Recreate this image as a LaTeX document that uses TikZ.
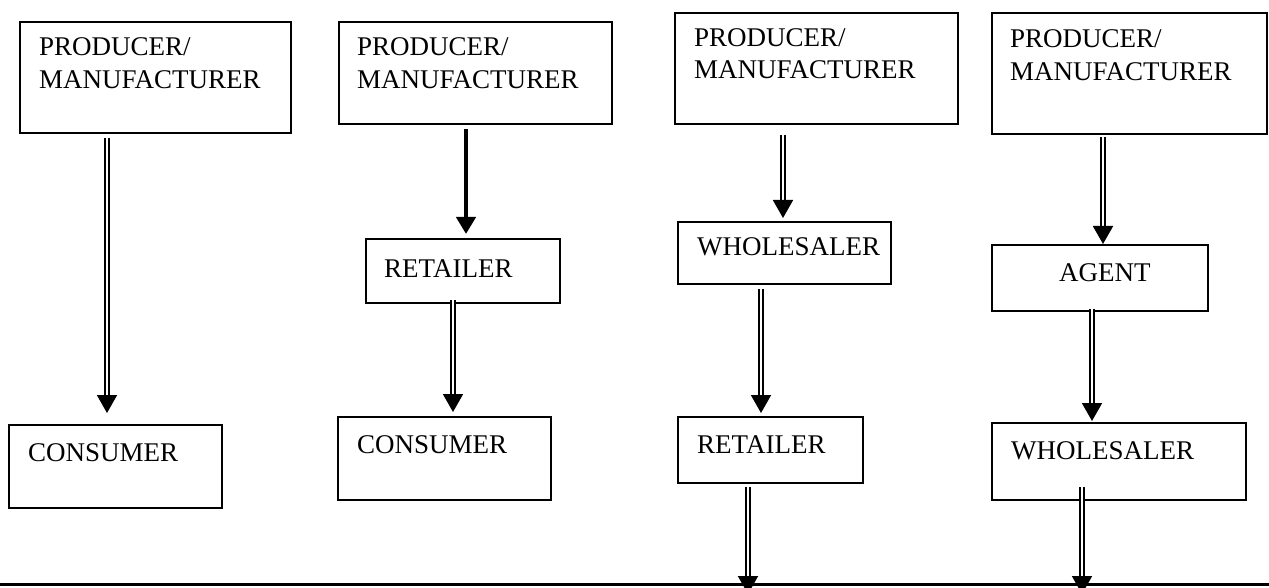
\documentclass[tikz,border=0pt]{standalone}
\usepackage{fontspec}
\setmainfont{Liberation Serif}
\usetikzlibrary{arrows.meta}
\begin{document}
\begin{tikzpicture}[x=1pt,y=-1pt,
  box/.style={draw, line width=2pt, inner sep=0pt, anchor=north west},
  txt/.style={inner sep=0pt, anchor=base west, font=\fontsize{27}{30}\selectfont},
  dbl/.style={draw, line width=1.8pt, double=white, double distance=1.8pt,
    -{Triangle[width=20pt,length=18pt]}},
  sgl/.style={draw, line width=4.5pt, -{Triangle[width=19pt,length=17pt]}}]
\useasboundingbox (0,0) rectangle (1269,588);
\fill[white] (0,0) rectangle (1269,588);
% column 1
\node[box, minimum width=271pt, minimum height=111pt] (p1) at (19,21) {};
\node[txt] (p1a) at (39,56) {PRODUCER/};
\node[txt] (p1b) at (39,89) {MANUFACTURER};
\node[box, minimum width=213pt, minimum height=83pt] (c1) at (8,424) {};
\node[txt] (c1t) at (28,461) {CONSUMER};
% column 2
\node[box, minimum width=273pt, minimum height=102pt] (p2) at (338,21) {};
\node[txt] (p2a) at (357,56) {PRODUCER/};
\node[txt] (p2b) at (357,89) {MANUFACTURER};
\node[box, minimum width=194pt, minimum height=64pt] (r2) at (365,238) {};
\node[txt] (r2t) at (384,277) {RETAILER};
\node[box, minimum width=213pt, minimum height=83pt] (c2) at (337,416) {};
\node[txt] (c2t) at (357,453) {CONSUMER};
% column 3
\node[box, minimum width=283pt, minimum height=111pt] (p3) at (674,12) {};
\node[txt] (p3a) at (694,47) {PRODUCER/};
\node[txt] (p3b) at (694,79) {MANUFACTURER};
\node[box, minimum width=213pt, minimum height=62pt] (w3) at (677,221) {};
\node[txt] (w3t) at (697,255) {WHOLESALER};
\node[box, minimum width=185pt, minimum height=66pt] (r3) at (677,416) {};
\node[txt] (r3t) at (697,453) {RETAILER};
% column 4
\node[box, minimum width=275pt, minimum height=121pt] (p4) at (991,12) {};
\node[txt] (p4a) at (1010,48) {PRODUCER/};
\node[txt] (p4b) at (1010,81) {MANUFACTURER};
\node[box, minimum width=216pt, minimum height=66pt] (a4) at (991,244) {};
\node[txt] (a4t) at (1059,281) {AGENT};
\node[box, minimum width=254pt, minimum height=77pt] (w4) at (991,422) {};
\node[txt] (w4t) at (1011,459) {WHOLESALER};
% bottom line
\coordinate (bl) at (0,584.5);
\coordinate (br) at (1269,584.5);
\draw[line width=2.6pt] (bl) -- (br);
\coordinate (e3) at (748,594);
\coordinate (e4) at (1082,594);
% connectors
\draw[dbl, shorten <=4pt, shorten >=11pt] (p1.south -| 107,0) -- (c1.north -| 107,0);
\draw[sgl, shorten <=4pt, shorten >=4pt] (p2.south -| 466,0) -- (r2.north -| 466,0);
\draw[dbl, shorten <=-4pt, shorten >=4pt] (r2.south -| 453,0) -- (c2.north -| 453,0);
\draw[dbl, shorten <=10pt, shorten >=3pt] (p3.south -| 783,0) -- (w3.north -| 783,0);
\draw[dbl, shorten <=4pt, shorten >=3pt] (w3.south -| 761,0) -- (r3.north -| 761,0);
\draw[dbl, shorten <=3pt] (r3.south -| 748,0) -- (e3);
\draw[dbl, shorten <=2pt, shorten >=0pt] (p4.south -| 1103,0) -- (a4.north -| 1103,0);
\draw[dbl, shorten <=-3pt, shorten >=1pt] (a4.south -| 1092,0) -- (w4.north -| 1092,0);
\draw[dbl, shorten <=-14pt] (w4.south -| 1082,0) -- (e4);
\end{tikzpicture}
\end{document}
